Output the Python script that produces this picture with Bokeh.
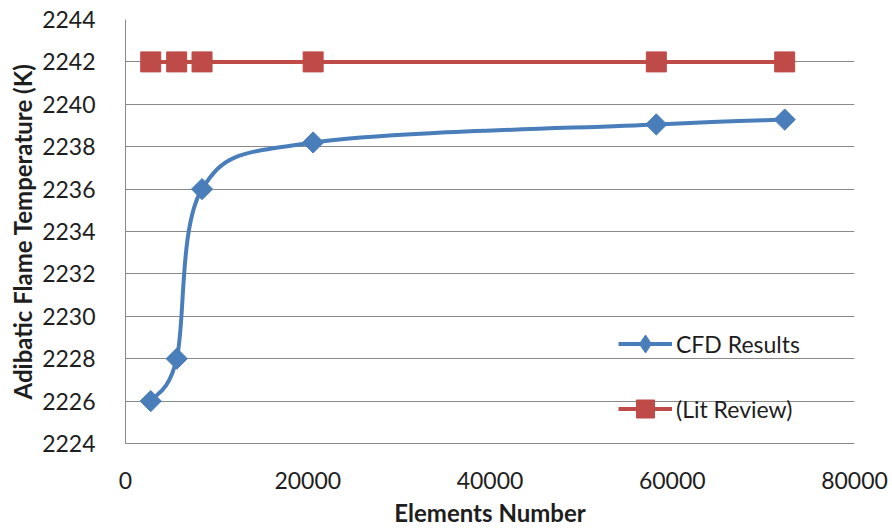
import numpy as np
from bokeh.plotting import figure
from bokeh.models import Range1d, Legend, LegendItem, FixedTicker, BasicTickFormatter, Title
from bokeh.embed import file_html
from bokeh.resources import INLINE

# ---- data ----
elements = [2770, 5620, 8400, 20590, 58250, 72340]
cfd_results = [2226.0, 2228.0, 2236.0, 2238.2, 2239.05, 2239.28]
lit_review = [2242.0, 2242.0, 2242.0, 2242.0, 2242.0, 2242.0]
y_ticks = [2224, 2226, 2228, 2230, 2232, 2234, 2236, 2238, 2240, 2242, 2244]
x_ticks = [0, 20000, 40000, 60000, 80000]

BLUE = "#4A7EBB"
RED = "#BE4B48"
GRID = "#898989"
TEXT = "#1E1E1E"
FONT = "Lato"

p = figure(width=892, height=529, output_backend="svg", toolbar_location=None,
           x_range=Range1d(0, 80000), y_range=Range1d(2224, 2244),
           min_border_left=125, min_border_right=38, min_border_top=19,
           min_border_bottom=86)
p.outline_line_color = None
p.background_fill_color = "white"
p.border_fill_color = "white"

# grid
p.xgrid.visible = False
p.ygrid.grid_line_color = GRID
p.ygrid.grid_line_width = 1
p.ygrid.ticker = FixedTicker(ticks=y_ticks)

# axes
p.yaxis.ticker = FixedTicker(ticks=y_ticks)
p.xaxis.ticker = FixedTicker(ticks=x_ticks)
p.xaxis.formatter = BasicTickFormatter(use_scientific=False)
p.yaxis.formatter = BasicTickFormatter(use_scientific=False)
for ax in (p.xaxis, p.yaxis):
    ax.axis_line_color = GRID
    ax.major_tick_line_color = None
    ax.minor_tick_line_color = None
    ax.major_label_text_font = FONT
    ax.major_label_text_font_size = "23px"
    ax.major_label_text_color = TEXT
    ax.axis_label_text_font = FONT
    ax.axis_label_text_font_size = "24px"
    ax.axis_label_text_font_style = "bold"
    ax.axis_label_text_color = TEXT
p.yaxis.major_label_standoff = 24
p.xaxis.major_label_standoff = 22
p.xaxis.axis_label = "Elements Number"
p.xaxis.axis_label_standoff = 6

# y-axis title as a left-side title
ytitle = Title(text="Adibatic Flame Temperature (K)", align="center",
               text_font=FONT, text_font_size="24px", text_font_style="bold",
               text_color=TEXT, standoff=6, offset=0)
p.add_layout(ytitle, "left")

# smoothed CFD curve (Catmull-Rom bezier through the data points)
xs = np.array(elements, dtype=float)
ys = np.array(cfd_results, dtype=float)
n = len(xs)
x0s, y0s, x1s, y1s, cx0, cy0, cx1, cy1 = [], [], [], [], [], [], [], []
for i in range(n - 1):
    pm = (xs[max(i - 1, 0)], ys[max(i - 1, 0)])
    pa = (xs[i], ys[i])
    pb = (xs[i + 1], ys[i + 1])
    pn = (xs[min(i + 2, n - 1)], ys[min(i + 2, n - 1)])
    x0s.append(pa[0]); y0s.append(pa[1])
    x1s.append(pb[0]); y1s.append(pb[1])
    cx0.append(pa[0] + (pb[0] - pm[0]) / 6); cy0.append(pa[1] + (pb[1] - pm[1]) / 6)
    cx1.append(pb[0] - (pn[0] - pa[0]) / 6); cy1.append(pb[1] - (pn[1] - pa[1]) / 6)
p.bezier(x0=x0s, y0=y0s, x1=x1s, y1=y1s, cx0=cx0, cy0=cy0, cx1=cx1, cy1=cy1,
         line_color=BLUE, line_width=4)
p.scatter(elements, cfd_results, marker="square", angle=np.pi / 4, size=15,
          fill_color=BLUE, line_color=BLUE)

p.line(elements, lit_review, line_color=RED, line_width=4)
p.scatter(elements, lit_review, marker="square", size=20,
          fill_color=RED, line_color=RED)

# legend-only renderers (one NaN row each, so nothing is drawn in the plot)
nan_x = [float("nan")]
nan_y = [float("nan")]
leg_cfd_line = p.line(x=nan_x, y=nan_y, line_color=BLUE, line_width=4)
leg_cfd_mark = p.scatter(x=nan_x, y=nan_y, marker="diamond", fill_color=BLUE, line_color=BLUE)
leg_lit_line = p.line(x=nan_x, y=nan_y, line_color=RED, line_width=4)
leg_lit_mark = p.scatter(x=nan_x, y=nan_y, marker="square", fill_color=RED, line_color=RED)

legend = Legend(items=[
    LegendItem(label="CFD Results", renderers=[leg_cfd_line, leg_cfd_mark]),
    LegendItem(label="(Lit Review)", renderers=[leg_lit_line, leg_lit_mark]),
], location=(493, 12))
legend.background_fill_alpha = 0
legend.border_line_color = None
legend.padding = 0
legend.margin = 0
legend.spacing = 20
legend.glyph_width = 54
legend.glyph_height = 45
legend.label_height = 45
legend.label_standoff = 4
legend.label_text_font = FONT
legend.label_text_font_size = "23px"
legend.label_text_color = TEXT
p.add_layout(legend, "center")

open("out.html", "w").write(file_html(p, INLINE))
